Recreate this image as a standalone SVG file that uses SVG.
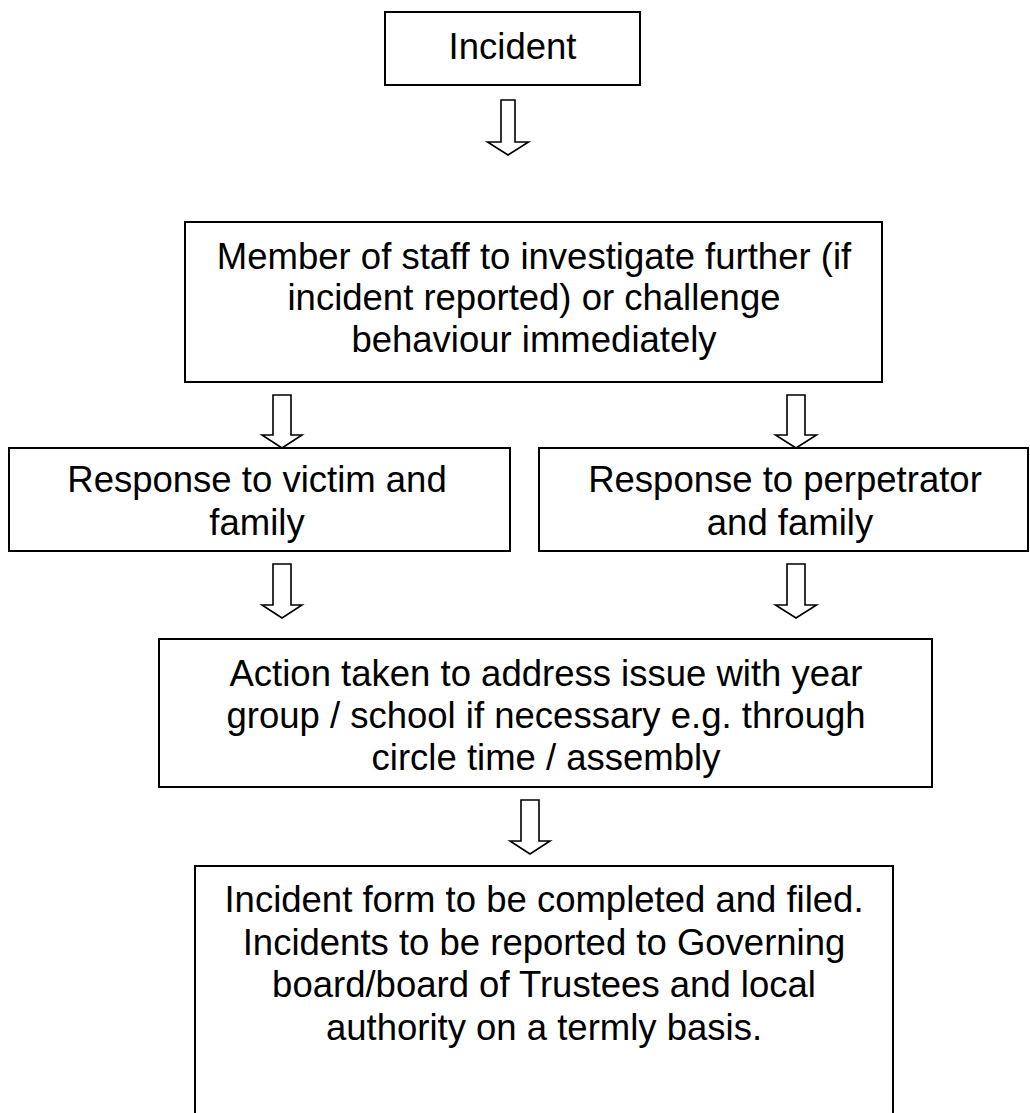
<svg xmlns="http://www.w3.org/2000/svg" width="1030" height="1113" viewBox="0 0 1030 1113">
<style>
.box{fill:#ffffff;stroke:#000000;stroke-width:2}
.arr{fill:#ffffff;stroke:#000000;stroke-width:1.6;stroke-linejoin:miter}
.t{font-family:"Liberation Sans",Arial,Helvetica,sans-serif;font-size:36.5px;fill:#000000;text-anchor:middle}
</style>
<rect x="0" y="0" width="1030" height="1113" fill="#ffffff"/>
<g id="connectors">
<polygon class="arr" points="501,100 515,100 515,142 528.5,142 508,155 487.5,142 501,142"/>
<polygon class="arr" points="273,395 291,395 291,435 302,435 282,448 262,435 273,435"/>
<polygon class="arr" points="787,395 805,395 805,435 816.5,435 796,448 775.5,435 787,435"/>
<polygon class="arr" points="273,564 291,564 291,605 302,605 282,618 262,605 273,605"/>
<polygon class="arr" points="787,564 805,564 805,605 816.5,605 796,618 775.5,605 787,605"/>
<polygon class="arr" points="521,800 539,800 539,841 550,841 530,854 510,841 521,841"/>
</g>
<g id="n-incident">
<rect class="box" x="385" y="12" width="255" height="73"/>
<text class="t" x="512.5" y="58.5">Incident</text>
</g>
<g id="n-investigate">
<rect class="box" x="185" y="222" width="697" height="160"/>
<text class="t" x="534" y="268.5">Member of staff to investigate further (if</text>
<text class="t" x="534" y="310">incident reported) or challenge</text>
<text class="t" x="534" y="351.5">behaviour immediately</text>
</g>
<g id="n-victim">
<rect class="box" x="9" y="448" width="501" height="103"/>
<text class="t" x="257" y="492">Response to victim and</text>
<text class="t" x="257" y="535">family</text>
</g>
<g id="n-perpetrator">
<rect class="box" x="539" y="448" width="489" height="103"/>
<text class="t" x="785" y="492">Response to perpetrator</text>
<text class="t" x="790" y="535">and family</text>
</g>
<g id="n-action">
<rect class="box" x="159" y="639" width="773" height="148"/>
<text class="t" x="546" y="686">Action taken to address issue with year</text>
<text class="t" x="546" y="728">group / school if necessary e.g. through</text>
<text class="t" x="546" y="770">circle time / assembly</text>
</g>
<g id="n-form">
<rect class="box" x="195" y="866" width="698" height="260"/>
<text class="t" x="544" y="912">Incident form to be completed and filed.</text>
<text class="t" x="544" y="954.5">Incidents to be reported to Governing</text>
<text class="t" x="544" y="997">board/board of Trustees and local</text>
<text class="t" x="544" y="1039.5">authority on a termly basis.</text>
</g>
</svg>
